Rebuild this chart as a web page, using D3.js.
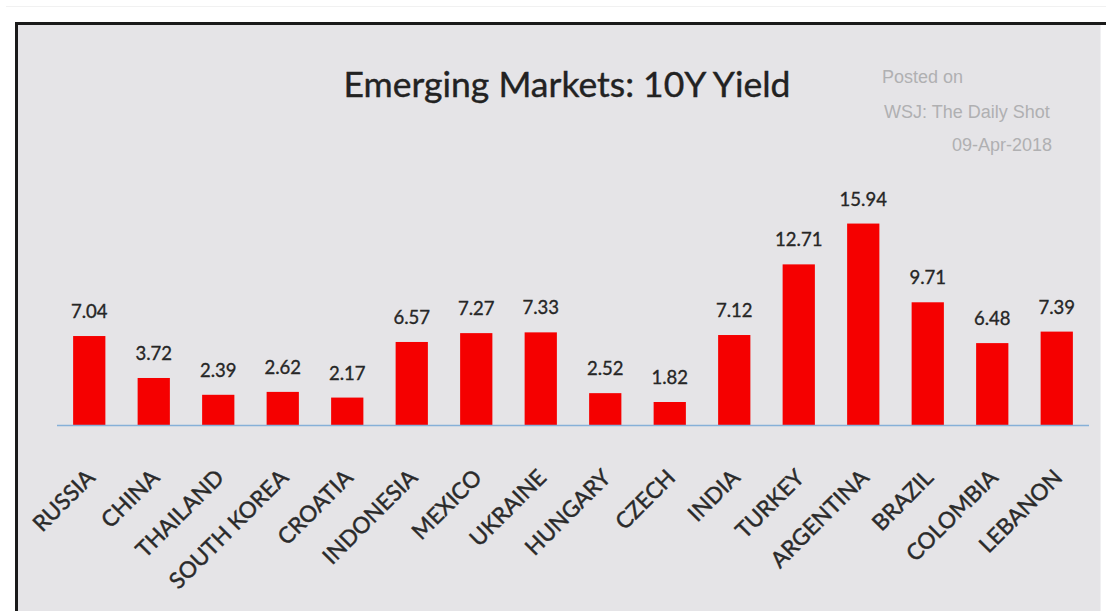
<!DOCTYPE html>
<html>
<head>
<meta charset="utf-8">
<script src="https://cdn.jsdelivr.net/npm/d3@7"></script>
<style>
  html, body { margin: 0; padding: 0; background: #ffffff; }
  svg { display: block; }
</style>
</head>
<body>
<svg id="chart" width="1106" height="611"></svg>
<script>
// 10-year government bond yields, %
const countries = ["RUSSIA", "CHINA", "THAILAND", "SOUTH KOREA", "CROATIA", "INDONESIA",
  "MEXICO", "UKRAINE", "HUNGARY", "CZECH", "INDIA", "TURKEY", "ARGENTINA", "BRAZIL",
  "COLOMBIA", "LEBANON"];
const yields = [7.04, 3.72, 2.39, 2.62, 2.17, 6.57, 7.27, 7.33, 2.52, 1.82, 7.12, 12.71,
  15.94, 9.71, 6.48, 7.39];
const title = "Emerging Markets: 10Y Yield";
const credit = ["Posted on", "WSJ: The Daily Shot", "09-Apr-2018"];

const svg = d3.select("#chart");
const W = 1106, H = 611;
const font = "Lato, 'Open Sans', sans-serif";

// Page and chart panel with dark top/left frame
svg.append("rect").attr("x", 0).attr("y", 0).attr("width", W).attr("height", H).attr("fill", "#ffffff");
svg.append("line").attr("x1", 6).attr("x2", W).attr("y1", 6.5).attr("y2", 6.5)
  .attr("stroke", "#f1f1f1").attr("stroke-width", 1);
svg.append("rect").attr("x", 17).attr("y", 24).attr("width", 1084).attr("height", H - 24)
  .attr("fill", "#e5e4e7");
svg.append("line").attr("x1", 1100.5).attr("x2", 1100.5).attr("y1", 25).attr("y2", H)
  .attr("stroke", "#f0f0f2").attr("stroke-width", 1);
svg.append("line").attr("x1", 15).attr("x2", W).attr("y1", 23.5).attr("y2", 23.5)
  .attr("stroke", "#1a1a1a").attr("stroke-width", 3);
svg.append("line").attr("x1", 16.5).attr("x2", 16.5).attr("y1", 22).attr("y2", H)
  .attr("stroke", "#1a1a1a").attr("stroke-width", 3);

const x = d3.scaleBand().domain(countries).range([57, 1089]).paddingInner(0.5).paddingOuter(0.25);
const y = d3.scaleLinear().domain([0, 16]).range([425, 222.8]);

const data = countries.map((c, i) => ({ c, v: yields[i] }));

// Bars
svg.append("g").selectAll("rect").data(data).join("rect")
  .attr("x", d => x(d.c))
  .attr("y", d => y(d.v))
  .attr("width", x.bandwidth())
  .attr("height", d => y(0) - y(d.v))
  .attr("fill", "#f50000");

// Baseline
svg.append("line").attr("x1", 57).attr("x2", 1089).attr("y1", y(0) + 0.5).attr("y2", y(0) + 0.5)
  .attr("stroke", "#86b0d8").attr("stroke-width", 1.5);

// Value labels
svg.append("g").selectAll("text").data(data).join("text")
  .attr("x", d => x(d.c) + x.bandwidth() / 2)
  .attr("y", d => y(d.v) - 18)
  .attr("text-anchor", "middle")
  .attr("font-family", font)
  .attr("font-size", 18.5)
  .attr("fill", "#262626")
  .attr("stroke", "#262626")
  .attr("stroke-width", 0.35)
  .text(d => d.v.toFixed(2));

// Category axis labels, rotated
const xAxis = d3.axisBottom(x).tickSize(0).tickPadding(0);
const gx = svg.append("g").attr("transform", `translate(0,${y(0)})`).call(xAxis);
gx.select(".domain").remove();
gx.selectAll("text")
  .attr("font-family", font)
  .attr("font-size", 22.5)
  .attr("fill", "#2a2a2a")
  .attr("stroke", "#2a2a2a")
  .attr("stroke-width", 0.45)
  .attr("text-anchor", "end")
  .attr("dy", 0)
  .attr("transform", "translate(7,54) rotate(-45)");

// Title
svg.append("text").attr("x", 567).attr("y", 97).attr("text-anchor", "middle")
  .attr("font-family", font).attr("font-size", 35.5)
  .attr("fill", "#222").attr("stroke", "#222").attr("stroke-width", 0.4)
  .text(title);

// Credit note
const cred = svg.append("g").attr("font-family", "'Liberation Sans', Arial, sans-serif")
  .attr("font-size", 18).attr("fill", "#b0b0b2");
cred.append("text").attr("x", 882).attr("y", 83).text(credit[0]);
cred.append("text").attr("x", 884).attr("y", 118).text(credit[1]);
cred.append("text").attr("x", 1052).attr("y", 151).attr("text-anchor", "end").text(credit[2]);
</script>
</body>
</html>
